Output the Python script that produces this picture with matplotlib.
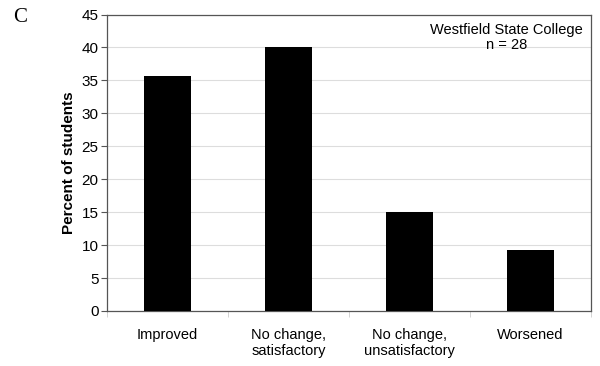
import matplotlib
matplotlib.use('Agg')
import matplotlib.pyplot as plt
import numpy as np

# outcome categories and percent of students
categories = ['Improved', 'No change,\nsatisfactory', 'No change,\nunsatisfactory', 'Worsened']
percents = [35.7, 40.0, 15.0, 9.3]
yticks = list(range(0, 50, 5))

plt.rcParams['font.family'] = ['Liberation Sans', 'DejaVu Sans']

fig = plt.figure(figsize=(6, 3.66), dpi=100)
ax = fig.add_axes([107/600, 1 - 311/366, (591-107)/600, (311-14.5)/366])

x = np.arange(len(categories))
ax.bar(x, percents, width=0.385, color='black', zorder=3)

ax.set_xlim(-0.5, len(categories) - 0.5)
ax.set_ylim(0, 45)
ax.set_yticks(yticks)
ax.set_yticklabels([str(v) for v in yticks], fontsize=11)
ax.set_xticks(x)
ax.set_xticklabels(categories, fontsize=10.5, linespacing=1.25)
ax.xaxis.set_tick_params(length=0, pad=12)
ax.set_xticks(np.arange(-0.5, len(categories)), minor=True)
ax.tick_params(axis='x', which='minor', length=4, color='#cccccc')
ax.tick_params(axis='y', length=4, color='#555555', pad=2)

ax.yaxis.grid(True, color='#dddddd', linewidth=0.8, zorder=0)
for s in ax.spines.values():
    s.set_color('#555555')
    s.set_linewidth(0.9)

ax.set_ylabel('Percent of students', fontsize=11, fontweight='bold', labelpad=4)

ax.text(0.983, 0.97, 'Westfield State College\nn = 28', transform=ax.transAxes,
        ha='right', va='top', fontsize=10.5, multialignment='center', linespacing=1.1)

fig.text(13/600, 1 - 18/366, 'C', fontsize=15, family='Liberation Serif', va='center')

fig.savefig('out.png', dpi=100)
